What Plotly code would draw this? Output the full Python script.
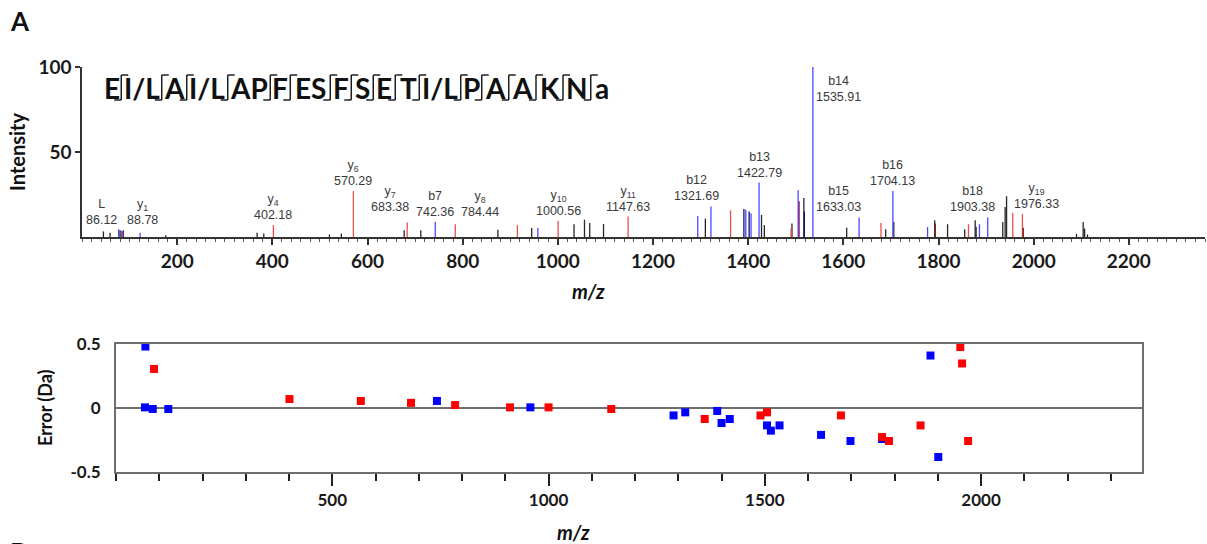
import plotly.graph_objects as go

W, H = 1207, 544

# ---------------- spectrum data (m/z, relative intensity, ion type) ----------------
peak_mz = [45, 59, 77, 80, 84, 87, 122, 176, 368, 382, 402.2, 520, 545, 570.3,
           677, 683.4, 712, 742.4, 784.4, 874, 915, 945, 958, 1000.6, 1034, 1056,
           1067, 1096, 1147.6, 1294, 1310, 1321.7, 1363, 1391, 1395, 1402, 1406,
           1422.8, 1428, 1434, 1490, 1492, 1505, 1507, 1517, 1518, 1535.9, 1607,
           1633.0, 1679, 1689, 1704.1, 1706, 1777, 1792, 1793, 1819, 1855, 1863,
           1877, 1879, 1886, 1903.4, 1935, 1940, 1943, 1956, 1976.3, 1978, 2090,
           2104, 2107, 2113]
peak_int = [3.3, 2.5, 4.5, 4.0, 3.5, 4.0, 2.5, 1.0, 2.5, 2.0, 7.0, 1.5, 2.0, 27.0,
            4.0, 8.5, 4.0, 9.0, 7.5, 4.3, 7.0, 5.3, 5.3, 9.5, 7.5, 10.2,
            8.2, 7.6, 12.0, 12.4, 10.8, 18.0, 15.7, 16.5, 16.0, 15.0, 14.0,
            32.0, 13.0, 7.0, 5.0, 8.0, 27.5, 21.0, 23.0, 15.0, 100.0, 5.5,
            11.5, 8.2, 4.5, 27.0, 8.8, 5.9, 9.8, 8.0, 7.5, 4.5, 7.5,
            9.8, 6.0, 7.5, 11.5, 8.8, 17.6, 24.0, 14.1, 13.5, 5.5, 1.8,
            8.8, 5.0, 1.5]
peak_kind = ["o", "o", "b", "nb", "o", "pu", "b", "o", "o", "o", "y", "o", "o", "y",
             "o", "y", "o", "b", "y", "o", "y", "o", "b", "y", "o", "o",
             "o", "o", "y", "b", "o", "b", "y", "nb", "b", "nb", "b",
             "b", "o", "o", "y", "o", "b", "pu", "o", "nb", "b", "o",
             "b", "y", "o", "b", "o", "b", "o", "dr", "o", "o", "y",
             "o", "o", "b", "b", "o", "o", "o", "y", "y", "dr", "o",
             "o", "o", "o"]

# ---------------- peak labels ----------------
label_ion = ["L", "y<sub>1</sub>", "y<sub>4</sub>", "y<sub>6</sub>", "y<sub>7</sub>", "b7",
             "y<sub>8</sub>", "y<sub>10</sub>", "y<sub>11</sub>", "b12", "b13", "b14",
             "b15", "b16", "b18", "y<sub>19</sub>"]
label_mz = ["86.12", "88.78", "402.18", "570.29", "683.38", "742.36", "784.44",
            "1000.56", "1147.63", "1321.69", "1422.79", "1535.91", "1633.03",
            "1704.13", "1903.38", "1976.33"]
label_level = [4, 4, 7, 27, 11.5, 9, 9, 9.5, 12, 18, 32, 97, 11.5, 27, 11.5, 13.5]
label_shift = [-21, 18, 0, 0, -17, 0, 25, 0, 0, -14, 0, 26, -21, 0, -15, 14]

# ---------------- mass error data ----------------
err_b_mz = [68, 67, 85, 121, 742, 958, 1289, 1316, 1390, 1400, 1419, 1505, 1514,
            1534, 1630, 1698, 1771, 1883, 1901]
err_b_val = [0.48, 0.005, -0.008, -0.008, 0.055, 0.005, -0.058, -0.034, -0.023,
             -0.117, -0.086, -0.136, -0.177, -0.136, -0.21, -0.258, -0.242, 0.41, -0.383]
err_y_mz = [88, 401, 566, 682, 784, 911, 1000, 1145, 1361, 1490, 1505, 1676, 1771,
            1787, 1860, 1952, 1956, 1970]
err_y_val = [0.305, 0.07, 0.055, 0.04, 0.023, 0.005, 0.005, -0.008, -0.086, -0.058,
             -0.034, -0.058, -0.227, -0.258, -0.136, 0.476, 0.348, -0.258]

# ---------------- peptide sequence ----------------
seq_groups = ["E", "I/L", "A", "I/L", "AP", "F", "ES", "F", "S", "E", "T", "I/L",
              "P", "A", "A", "K", "N", "a"]

x_ticks_top = [200, 400, 600, 800, 1000, 1200, 1400, 1600, 1800, 2000, 2200]
x_ticks_bot = [500, 1000, 1500, 2000]

colors = {"o": "#262626", "y": "#e8504c", "b": "#4a4aff", "nb": "#10106e",
          "dr": "#7a1010", "pu": "#8a1a6a"}

fig = go.Figure()
for kind in ["o", "y", "b", "nb", "dr", "pu"]:
    xs, ys = [], []
    for m, v, k in zip(peak_mz, peak_int, peak_kind):
        if k == kind:
            xs += [m, m, None]
            ys += [0, v, None]
    fig.add_trace(go.Scatter(x=xs, y=ys, mode="lines", line=dict(color=colors[kind], width=1.3),
                             xaxis="x", yaxis="y", showlegend=False, hoverinfo="skip"))

fig.add_trace(go.Scatter(x=err_b_mz, y=err_b_val, mode="markers", xaxis="x2", yaxis="y2",
                         marker=dict(symbol="square", size=8, color="#0000ff"), showlegend=False))
fig.add_trace(go.Scatter(x=err_y_mz, y=err_y_val, mode="markers", xaxis="x2", yaxis="y2",
                         marker=dict(symbol="square", size=8, color="#ff0000"), showlegend=False))


def px(x):
    return x / W


def py(y):
    return 1 - y / H


tick_font = dict(family="Lato", size=19, color="#1a1a1a", weight="bold")
tick_font2 = dict(family="Lato", size=17, color="#1a1a1a", weight="bold")

fig.update_layout(
    width=W, height=H, margin=dict(l=0, r=0, t=0, b=0),
    paper_bgcolor="white", plot_bgcolor="white",
    xaxis=dict(domain=[px(82), px(1205)], range=[0, 2360], anchor="y", automargin=False,
               tickvals=x_ticks_top, ticks="outside", ticklen=6, tickwidth=1.5, tickcolor="#333",
               showline=True, linecolor="#333", linewidth=1.5, showgrid=False, zeroline=False,
               tickfont=tick_font,
               minor=dict(dtick=20, ticks="outside", ticklen=3, tickcolor="#555", tickwidth=1)),
    yaxis=dict(domain=[py(237), py(67)], range=[0, 100], anchor="x", automargin=False,
               tickvals=[50, 100], ticks="outside", ticklen=5, tickwidth=1.5, tickcolor="#333",
               showline=True, linecolor="#333", linewidth=1.5, showgrid=False, zeroline=False,
               tickfont=tick_font),
    xaxis2=dict(domain=[px(116), px(1142)], range=[0, 2372], anchor="y2", automargin=False,
                tickvals=x_ticks_bot, ticks="outside", ticklen=12, tickwidth=2, tickcolor="#222",
                showline=True, mirror=True, linecolor="#6e6e6e", linewidth=2,
                showgrid=False, zeroline=False,
                tickfont=tick_font2,
                minor=dict(dtick=100, ticks="outside", ticklen=7, tickcolor="#222", tickwidth=2)),
    yaxis2=dict(domain=[py(472), py(344)], range=[-0.5, 0.5], anchor="x2", automargin=False,
                tickvals=[-0.5, 0, 0.5], ticktext=["-0.5", "0", "0.5"], ticks="",
                showline=True, mirror=True, linecolor="#6e6e6e", linewidth=2,
                showgrid=False, zeroline=True, zerolinecolor="#6e6e6e", zerolinewidth=2,
                ticklabelstandoff=10,
                tickfont=tick_font2),
)

annotations = []
for ion, mz, lvl, sh in zip(label_ion, label_mz, label_level, label_shift):
    top_anchor = lvl >= 90
    annotations.append(dict(x=float(mz), y=lvl, xref="x", yref="y",
                            text=f"{ion}<br>{mz}", showarrow=False,
                            xanchor="center", yanchor="top" if top_anchor else "bottom",
                            xshift=sh, yshift=0 if top_anchor else 1,
                            font=dict(family="Liberation Sans", size=12.5, color="#3a3a3a")))


def label(x, y, text, size, angle=0, xa="center", ya="middle"):
    return dict(x=px(x), y=py(y), xref="paper", yref="paper", text=text, showarrow=False,
                xanchor=xa, yanchor=ya, textangle=angle,
                font=dict(family="Lato", size=size, color="#111"))


annotations += [
    label(20, 21, "<b>A</b>", 26),
    label(17, 152, "<b>Intensity</b>", 20, angle=-90),
    label(588, 291, "<b><i>m/z</i></b>", 20),
    label(45, 408, "<b>Error (Da)</b>", 18, angle=-90),
    label(573, 532, "<b><i>m/z</i></b>", 20),
    label(8, 534, "<b>B</b>", 26, xa="left", ya="top"),
]

# peptide sequence with fragment brackets (layout positions in pixels)
seq_centers = [111.5, 142, 174, 207, 249, 280, 310, 341, 362, 384, 408, 440, 471,
               495.5, 522, 549.5, 577, 602]
ink_w = {"E": 12, "I/L": 34, "A": 19, "AP": 35, "F": 12, "ES": 31, "S": 13, "T": 15,
         "P": 13, "K": 18, "N": 19, "a": 14}
for g, c in zip(seq_groups, seq_centers):
    annotations.append(label(c, 88, f"<b>{g}</b>", 28))
shapes = []
for i in range(len(seq_groups) - 1):
    right = seq_centers[i] + ink_w[seq_groups[i]] / 2
    left = seq_centers[i + 1] - ink_w[seq_groups[i + 1]] / 2
    sx = (right + left) / 2
    ln = dict(color="#111", width=1.4)
    shapes.append(dict(type="line", xref="paper", yref="paper", x0=px(sx), x1=px(sx),
                       y0=py(75), y1=py(100), line=ln))
    shapes.append(dict(type="line", xref="paper", yref="paper", x0=px(sx), x1=px(sx + 7),
                       y0=py(75), y1=py(75), line=ln))
    shapes.append(dict(type="line", xref="paper", yref="paper", x0=px(sx - 7), x1=px(sx),
                       y0=py(100), y1=py(100), line=ln))

fig.update_layout(annotations=annotations, shapes=shapes)
post = ("document.body.style.margin='0';document.body.style.padding='0';"
        "document.body.style.overflow='hidden';"
        "Plotly.relayout('{plot_id}', {width: 1207, height: 544});")
fig.write_html("out.html", post_script=post, config={"displayModeBar": False})
